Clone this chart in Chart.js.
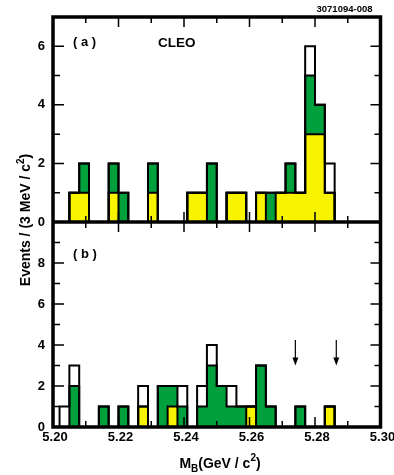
<!DOCTYPE html>
<html>
<head>
<meta charset="utf-8">
<script src="https://cdn.jsdelivr.net/npm/chart.js@4/dist/chart.umd.min.js"></script>
<style>
  html, body { margin: 0; padding: 0; background: #fff; }
  #wrap { position: relative; width: 394px; height: 475px; }
</style>
</head>
<body>
<div id="wrap"><canvas id="c"></canvas></div>
<script>
// B-candidate mass histogram, 3 MeV/c^2 bins (bin centres in GeV/c^2).
// First and last entries are empty edge bins that close the outline.
const binCenters = [
  5.2005, 5.2035, 5.2065, 5.2095, 5.2125, 5.2155, 5.2185, 5.2215, 5.2245, 5.2275,
  5.2305, 5.2335, 5.2365, 5.2395, 5.2425, 5.2455, 5.2485, 5.2515, 5.2545, 5.2575,
  5.2605, 5.2635, 5.2665, 5.2695, 5.2725, 5.2755, 5.2785, 5.2815, 5.2845, 5.2875,
  5.2905, 5.2935, 5.2965, 5.2995
];

// Panel (a): events per bin, split into the three stacked components
const aYellow = [0,0,1,1,0,0,1,0,0,0,1,0,0,0,1,1,0,0,1,1,0,1,0,1,1,1,3,3,1,0,0,0,0,0];
const aGreen  = [0,0,0,1,0,0,1,1,0,0,1,0,0,0,0,0,2,0,0,0,0,0,1,0,1,0,2,1,0,0,0,0,0,0];
const aWhite  = [0,0,0,0,0,0,0,0,0,0,0,0,0,0,0,0,0,0,0,0,0,0,0,0,0,0,1,0,1,0,0,0,0,0];

// Panel (b)
const bYellow = [0,0,0,0,0,0,0,0,0,1,0,0,1,0,0,0,0,0,0,0,1,0,0,0,0,0,0,0,1,0,0,0,0,0];
const bGreen  = [0,0,2,0,0,1,0,1,0,0,0,2,1,1,0,1,3,2,1,1,0,3,1,0,0,1,0,0,0,0,0,0,0,0];
const bWhite  = [0,1,1,0,0,0,0,0,0,1,0,0,0,1,0,1,1,0,1,0,0,0,0,0,0,0,0,0,0,0,0,0,0,0];

// Axis ticks and labels
const xTickValues = [5.20, 5.22, 5.24, 5.26, 5.28, 5.30];
const xTickLabels = ['5.20', '5.22', '5.24', '5.26', '5.28', '5.30'];
const aTickValues = [0, 2, 4, 6];
const aTickLabels = ['0', '2', '4', '6'];
const bTickValues = [0, 2, 4, 6, 8];
const bTickLabels = ['0', '2', '4', '6', '8'];

// Signal-region markers in panel (b): x position, arrow tail and tip (events)
const arrowX = [5.2740, 5.2865];
const arrowTail = 4.25;
const arrowTip = 3.0;

const YELLOW = '#f8f400';
const GREEN = '#00a03c';
const FONT = "'Liberation Sans', Arial, Helvetica, sans-serif";

function points(vals) {
  return vals.map((v, i) => ({ x: binCenters[i], y: v }));
}

// Three cumulative step outlines per panel; each is filled down to the one below it.
function panelDatasets(axisId, yel, grn, wht) {
  const c1 = yel.slice();
  const c2 = yel.map((v, i) => v + grn[i]);
  const c3 = c2.map((v, i) => v + wht[i]);
  const common = {
    yAxisID: axisId, stepped: 'middle', pointRadius: 0, pointHoverRadius: 0,
    borderColor: '#000', borderWidth: 2, borderJoinStyle: 'miter', borderCapStyle: 'butt'
  };
  return [
    { ...common, data: points(c1), fill: 'origin', backgroundColor: YELLOW },
    { ...common, data: points(c2), fill: '-1', backgroundColor: GREEN },
    { ...common, data: points(c3), fill: '-1', backgroundColor: '#ffffff' }
  ];
}

function drawRich(ctx, parts, x, y) {
  // parts: [text, size, baselineShift]
  let cx = x;
  for (const [t, size, dy] of parts) {
    ctx.font = `bold ${size}px ${FONT}`;
    ctx.fillText(t, cx, y + dy);
    cx += ctx.measureText(t).width;
  }
  return cx - x;
}
function richWidth(ctx, parts) {
  let w = 0;
  for (const [t, size] of parts) {
    ctx.font = `bold ${size}px ${FONT}`;
    w += ctx.measureText(t).width;
  }
  return w;
}

const frameAndMarks = {
  id: 'frameAndMarks',
  afterDraw(chart) {
    const { ctx, chartArea: ca, scales } = chart;
    const x = scales.x, ya = scales.ya, yb = scales.yb;
    const mid = ya.getPixelForValue(0);
    ctx.save();
    ctx.strokeStyle = '#000';
    ctx.fillStyle = '#000';

    // x tick marks: top edge, both sides of the divider, bottom edge
    ctx.lineWidth = 1.5;
    ctx.beginPath();
    for (let i = 1; i < 10; i++) {
      const px = x.getPixelForValue(5.2 + i * 0.01);
      const len = i % 2 === 0 ? 10 : 6;
      ctx.moveTo(px, ca.top); ctx.lineTo(px, ca.top + len);
      ctx.moveTo(px, mid - len); ctx.lineTo(px, mid + len);
      ctx.moveTo(px, ca.bottom); ctx.lineTo(px, ca.bottom - len);
    }
    // y tick marks on both sides of each panel
    const yMarks = (scale, max) => {
      for (let v = 1; v < max; v++) {
        const py = scale.getPixelForValue(v);
        const major = v % 2 === 0;
        ctx.moveTo(ca.left, py); ctx.lineTo(ca.left + (major ? 11 : 7), py);
        ctx.moveTo(ca.right, py); ctx.lineTo(ca.right - (major ? 10 : 6), py);
      }
    };
    yMarks(ya, 7);
    yMarks(yb, 10);
    ctx.stroke();

    // frame and panel divider
    ctx.lineWidth = 3.5;
    ctx.strokeRect(ca.left, ca.top, ca.right - ca.left, ca.bottom - ca.top);
    ctx.beginPath();
    ctx.moveTo(ca.left, mid); ctx.lineTo(ca.right, mid);
    ctx.stroke();

    // arrows in panel (b)
    ctx.lineWidth = 1.2;
    for (const ax of arrowX) {
      const px = x.getPixelForValue(ax);
      const y0 = yb.getPixelForValue(arrowTail);
      const y1 = yb.getPixelForValue(arrowTip);
      ctx.beginPath();
      ctx.moveTo(px, y0); ctx.lineTo(px, y1 - 6);
      ctx.stroke();
      ctx.beginPath();
      ctx.moveTo(px - 3, y1 - 8); ctx.lineTo(px + 3, y1 - 8); ctx.lineTo(px, y1);
      ctx.closePath();
      ctx.fill();
    }

    // panel labels
    ctx.textBaseline = 'alphabetic';
    ctx.textAlign = 'left';
    ctx.font = `bold 13px ${FONT}`;
    ctx.fillText('( a )', 73, 46);
    ctx.fillText('( b )', 73, 257.5);
    ctx.font = `bold 13.5px ${FONT}`;
    ctx.fillText('CLEO', 158, 46.7);
    ctx.font = `bold 9.5px ${FONT}`;
    ctx.fillText('3071094-008', 316.5, 12);

    // x-axis title: M_B (GeV / c^2)
    const xParts = [['M', 14, 0], ['B', 10, 4], ['(GeV / c', 14, 0], ['2', 10, -6.5], [')', 14, 0]];
    const xw = richWidth(ctx, xParts);
    drawRich(ctx, xParts, 220 - xw / 2, 467.5);

    // y-axis title, rotated
    const yParts = [['Events / (3 MeV / c', 14, 0], ['2', 10, -6.5], [')', 14, 0]];
    const yw = richWidth(ctx, yParts);
    ctx.translate(30, 220);
    ctx.rotate(-Math.PI / 2);
    drawRich(ctx, yParts, -yw / 2, 0);
    ctx.restore();
  }
};

const tickFont = { family: FONT, size: 13, weight: 'bold' };

new Chart(document.getElementById('c'), {
  type: 'line',
  data: {
    datasets: [
      ...panelDatasets('ya', aYellow, aGreen, aWhite),
      ...panelDatasets('yb', bYellow, bGreen, bWhite)
    ]
  },
  options: {
    responsive: true,
    maintainAspectRatio: false,
    animation: false,
    devicePixelRatio: 1,
    events: [],
    layout: { padding: { top: 17, right: 13.5, bottom: 0, left: 0 } },
    plugins: {
      legend: { display: false },
      tooltip: { enabled: false },
      filler: { drawTime: 'beforeDatasetsDraw' }
    },
    scales: {
      x: {
        type: 'linear', position: 'bottom', min: 5.2, max: 5.3,
        grid: { display: false, drawTicks: false }, border: { display: false },
        afterBuildTicks: s => { s.ticks = xTickValues.map(v => ({ value: v })); },
        afterFit: s => { s.height = 48; s.paddingLeft = 0; s.paddingRight = 0; },
        ticks: {
          color: '#000', font: tickFont, padding: 2.5, labelOffset: 2,
          maxRotation: 0, autoSkip: false,
          callback: (v, i) => xTickLabels[i]
        }
      },
      ya: {
        type: 'linear', position: 'left', stack: 'panels', stackWeight: 1, weight: 2,
        min: 0, max: 7,
        grid: { display: false, drawTicks: false }, border: { display: false },
        afterBuildTicks: s => { s.ticks = aTickValues.map(v => ({ value: v })); },
        afterFit: s => { s.width = 53; },
        ticks: { color: '#000', font: tickFont, padding: 8, callback: (v, i) => aTickLabels[i] }
      },
      yb: {
        type: 'linear', position: 'left', stack: 'panels', stackWeight: 1, weight: 1,
        min: 0, max: 10,
        grid: { display: false, drawTicks: false }, border: { display: false },
        afterBuildTicks: s => { s.ticks = bTickValues.map(v => ({ value: v })); },
        afterFit: s => { s.width = 53; },
        ticks: { color: '#000', font: tickFont, padding: 8, callback: (v, i) => bTickLabels[i] }
      }
    }
  },
  plugins: [frameAndMarks]
});
</script>
</body>
</html>
